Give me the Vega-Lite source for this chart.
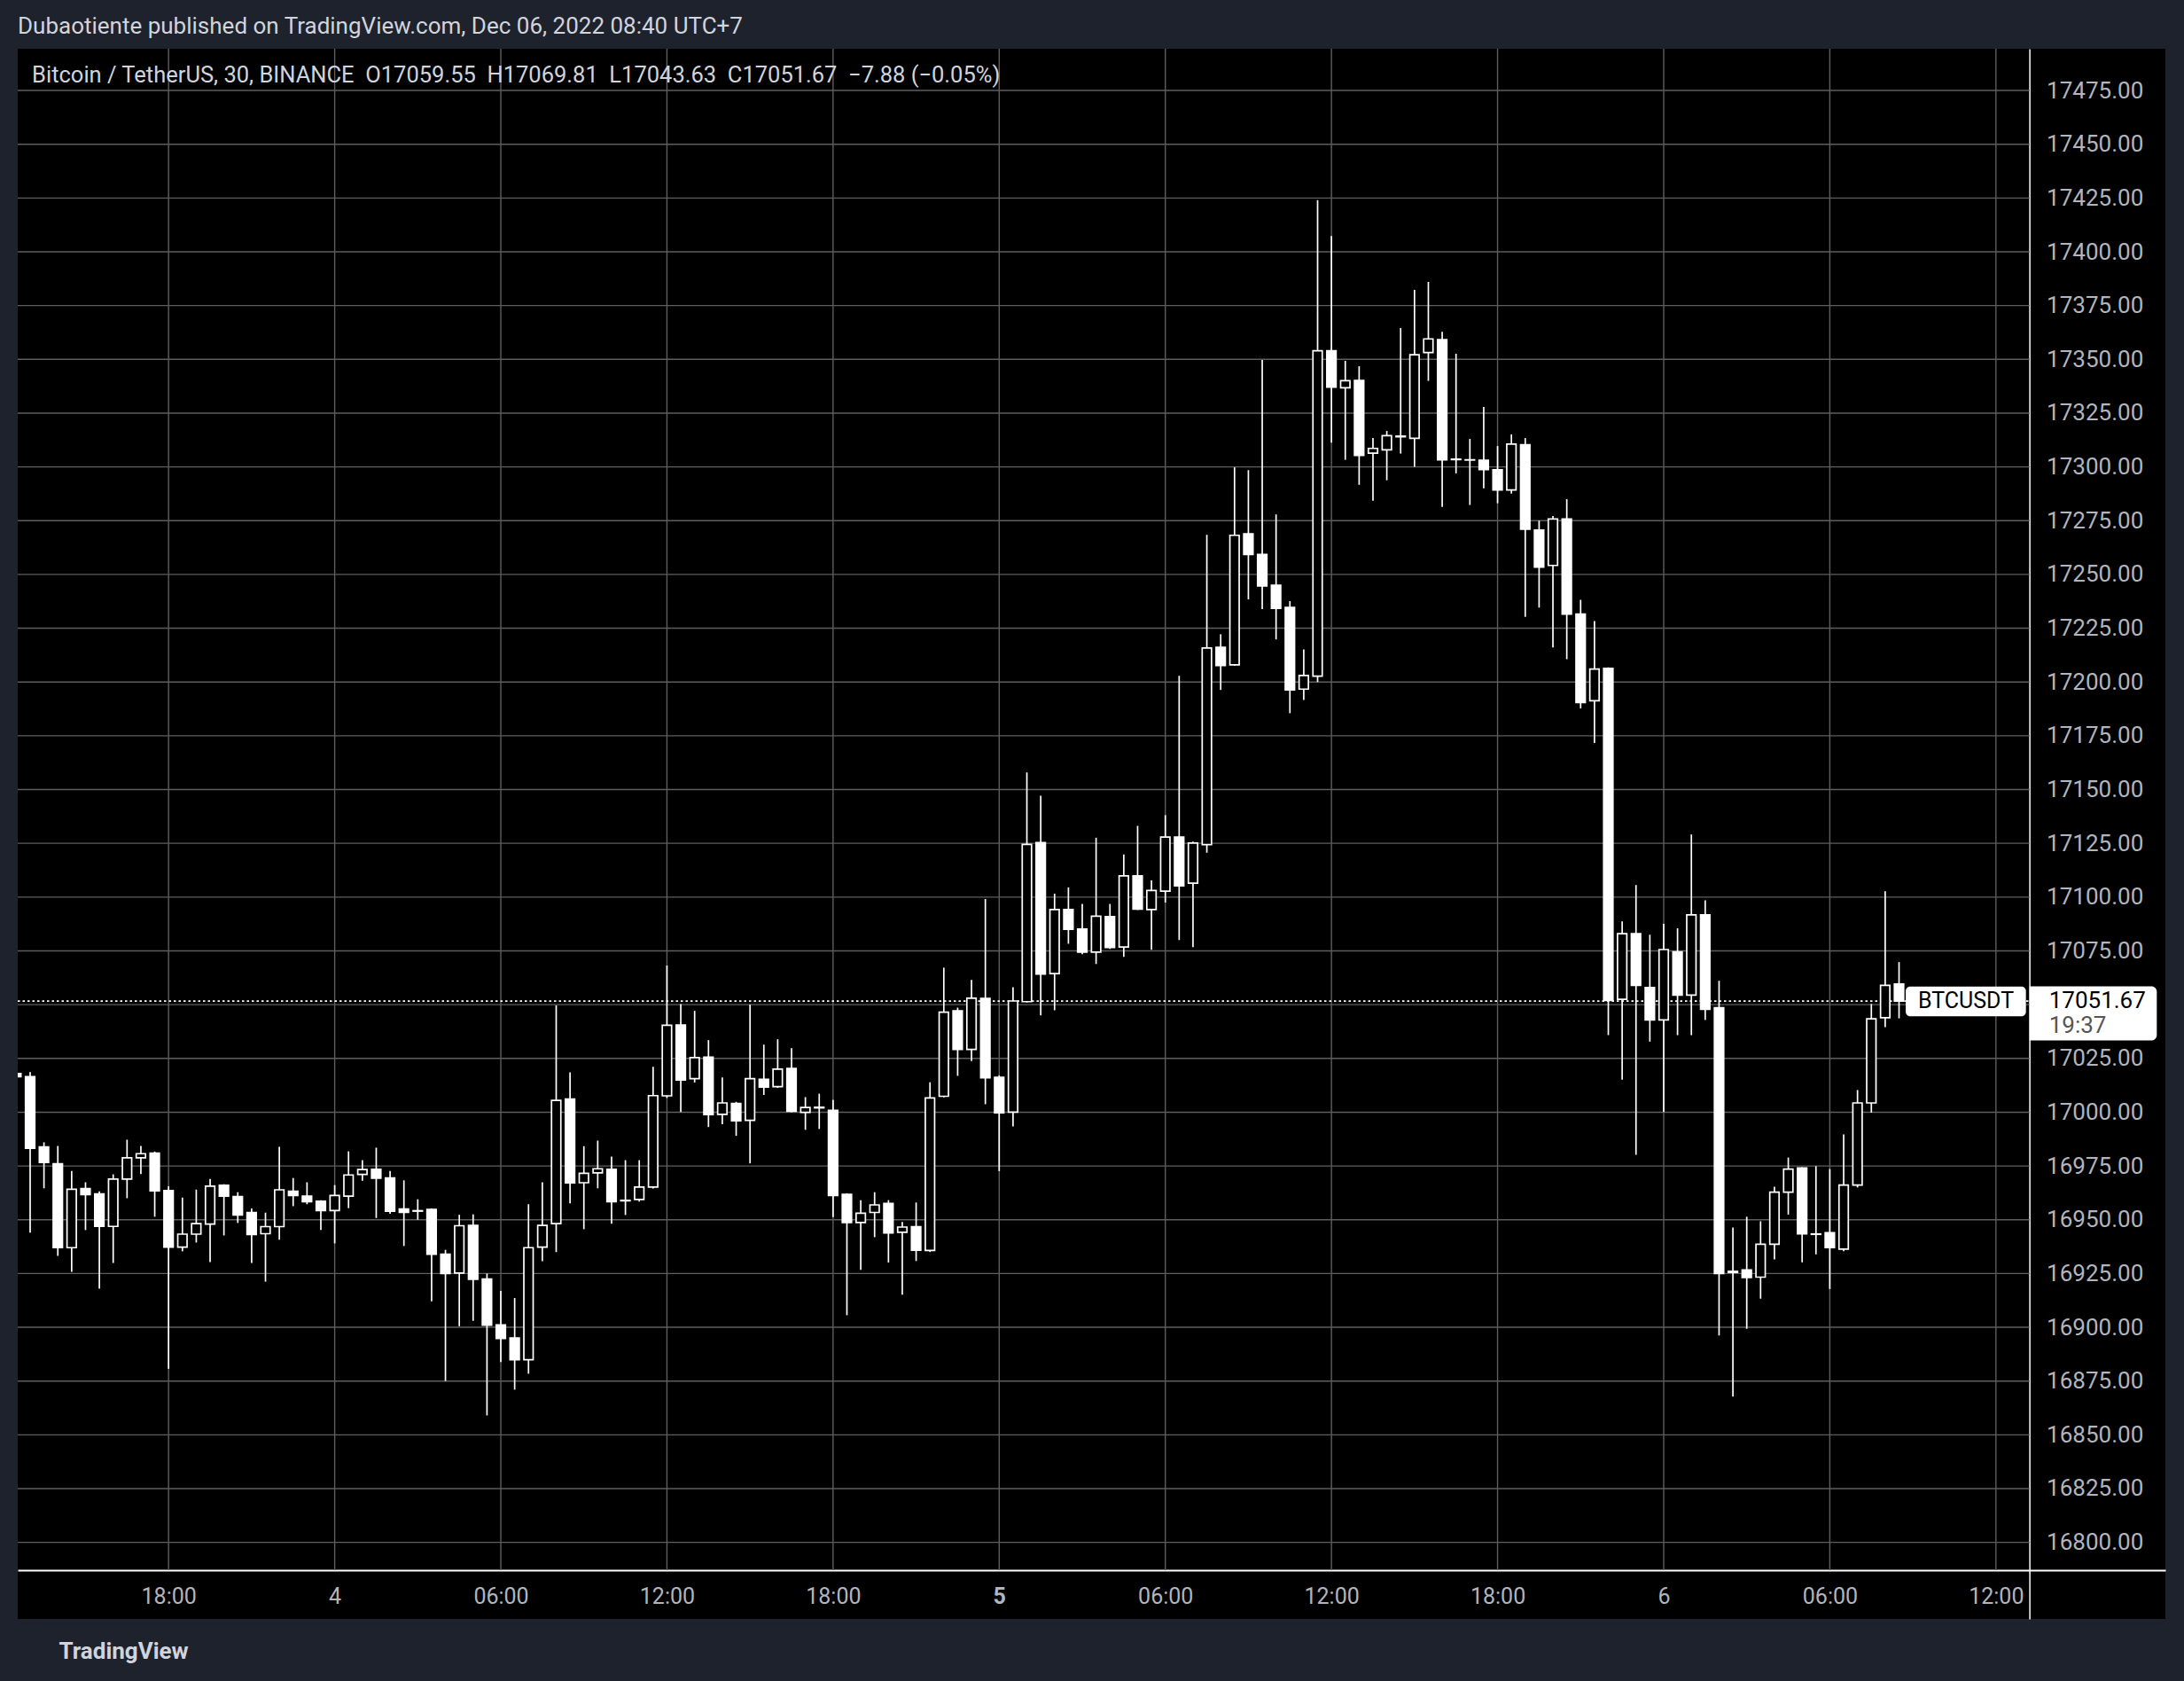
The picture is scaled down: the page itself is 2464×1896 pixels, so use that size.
{
"$schema": "https://vega.github.io/schema/vega-lite/v6.json",
"autosize": {"type": "none"},
"width": 2423,
"height": 1771,
"padding": {"left": 20, "top": 55, "right": 21, "bottom": 70},
"background": "#1e222d",
"config": {"font": "Roboto", "view": {"stroke": null, "fill": "#000000"},
  "axis": {"grid": false, "ticks": false, "tickSize": 0, "domainColor": "#ffffff", "labelColor": "#b2b5be", "labelFlush": false, "labelOverlap": false, "titleColor": "#d1d4dc"}},
"title": {"text": "Dubaotiente published on TradingView.com, Dec 06, 2022 08:40 UTC+7", "anchor": "start", "frame": "group", "fontSize": 26, "fontWeight": "normal", "color": "#d1d4dc", "baseline": "middle", "offset": -2},
"resolve": {"axis": {"x": "independent", "y": "independent"}},
"datasets": {
"candles": [
{"t":"2022-12-03T12:30Z","o":17018,"h":17019,"l":17015,"c":17016.5},
{"t":"2022-12-03T13:00Z","o":17016.5,"h":17018.6,"l":16944.0,"c":16983.2},
{"t":"2022-12-03T13:30Z","o":16983.9,"h":16986.0,"l":16964.6,"c":16976.6},
{"t":"2022-12-03T14:00Z","o":16976.0,"h":16984.3,"l":16933.2,"c":16937.0},
{"t":"2022-12-03T14:30Z","o":16937.0,"h":16972.7,"l":16925.8,"c":16964.2},
{"t":"2022-12-03T15:00Z","o":16964.5,"h":16967.4,"l":16945.2,"c":16961.7},
{"t":"2022-12-03T15:30Z","o":16962.0,"h":16963.2,"l":16917.9,"c":16946.9},
{"t":"2022-12-03T16:00Z","o":16946.9,"h":16971.1,"l":16929.9,"c":16968.9},
{"t":"2022-12-03T16:30Z","o":16968.9,"h":16987.2,"l":16960.0,"c":16978.8},
{"t":"2022-12-03T17:00Z","o":16978.8,"h":16984.3,"l":16971.2,"c":16980.7},
{"t":"2022-12-03T17:30Z","o":16981.0,"h":16981.7,"l":16951.4,"c":16963.4},
{"t":"2022-12-03T18:00Z","o":16963.6,"h":16965.6,"l":16880.7,"c":16937.3},
{"t":"2022-12-03T18:30Z","o":16937.3,"h":16960.3,"l":16935.3,"c":16943.3},
{"t":"2022-12-03T19:00Z","o":16943.3,"h":16964.0,"l":16939.4,"c":16948.2},
{"t":"2022-12-03T19:30Z","o":16948.0,"h":16969.0,"l":16930.3,"c":16965.6},
{"t":"2022-12-03T20:00Z","o":16966.0,"h":16966.5,"l":16942.7,"c":16961.0},
{"t":"2022-12-03T20:30Z","o":16960.8,"h":16962.8,"l":16948.5,"c":16952.2},
{"t":"2022-12-03T21:00Z","o":16953.3,"h":16955.2,"l":16929.9,"c":16943.1},
{"t":"2022-12-03T21:30Z","o":16943.5,"h":16953.3,"l":16921.2,"c":16946.8},
{"t":"2022-12-03T22:00Z","o":16946.8,"h":16983.9,"l":16940.7,"c":16963.9},
{"t":"2022-12-03T22:30Z","o":16963.2,"h":16969.4,"l":16956.3,"c":16961.3},
{"t":"2022-12-03T23:00Z","o":16961.0,"h":16967.4,"l":16957.2,"c":16958.4},
{"t":"2022-12-03T23:30Z","o":16958.6,"h":16959.1,"l":16945.2,"c":16954.3},
{"t":"2022-12-04T00:00Z","o":16954.3,"h":16966.1,"l":16939.0,"c":16961.3},
{"t":"2022-12-04T00:30Z","o":16961.0,"h":16981.8,"l":16955.4,"c":16970.8},
{"t":"2022-12-04T01:00Z","o":16971.1,"h":16977.7,"l":16968.1,"c":16973.3},
{"t":"2022-12-04T01:30Z","o":16973.4,"h":16983.5,"l":16950.8,"c":16969.3},
{"t":"2022-12-04T02:00Z","o":16969.4,"h":16972.7,"l":16952.8,"c":16953.9},
{"t":"2022-12-04T02:30Z","o":16955.0,"h":16968.3,"l":16937.8,"c":16953.4},
{"t":"2022-12-04T03:00Z","o":16954.2,"h":16959.5,"l":16950.0,"c":16954.0},
{"t":"2022-12-04T03:30Z","o":16954.8,"h":16955.2,"l":16912.1,"c":16934.0},
{"t":"2022-12-04T04:00Z","o":16934.0,"h":16936.0,"l":16875.0,"c":16925.0},
{"t":"2022-12-04T04:30Z","o":16925.2,"h":16952.3,"l":16900.5,"c":16947.2},
{"t":"2022-12-04T05:00Z","o":16947.4,"h":16952.5,"l":16903.0,"c":16922.3},
{"t":"2022-12-04T05:30Z","o":16922.4,"h":16925.0,"l":16859.0,"c":16901.0},
{"t":"2022-12-04T06:00Z","o":16901.1,"h":16916.9,"l":16883.8,"c":16894.8},
{"t":"2022-12-04T06:30Z","o":16895.0,"h":16913.6,"l":16871.0,"c":16884.9},
{"t":"2022-12-04T07:00Z","o":16884.9,"h":16957.2,"l":16878.4,"c":16937.0},
{"t":"2022-12-04T07:30Z","o":16937.3,"h":16967.4,"l":16930.7,"c":16947.4},
{"t":"2022-12-04T08:00Z","o":16948.2,"h":17049.6,"l":16934.9,"c":17005.5},
{"t":"2022-12-04T08:30Z","o":17006.1,"h":17018.5,"l":16957.6,"c":16967.1},
{"t":"2022-12-04T09:00Z","o":16967.2,"h":16984.2,"l":16945.6,"c":16971.6},
{"t":"2022-12-04T09:30Z","o":16971.8,"h":16986.8,"l":16964.6,"c":16973.7},
{"t":"2022-12-04T10:00Z","o":16973.4,"h":16979.4,"l":16948.1,"c":16958.4},
{"t":"2022-12-04T10:30Z","o":16959.0,"h":16977.7,"l":16952.2,"c":16958.8},
{"t":"2022-12-04T11:00Z","o":16959.4,"h":16977.7,"l":16958.4,"c":16965.2},
{"t":"2022-12-04T11:30Z","o":16965.2,"h":17021.1,"l":16964.5,"c":17007.7},
{"t":"2022-12-04T12:00Z","o":17007.6,"h":17068.2,"l":17006.6,"c":17040.4},
{"t":"2022-12-04T12:30Z","o":17040.5,"h":17050.3,"l":17000.1,"c":17015.0},
{"t":"2022-12-04T13:00Z","o":17015.6,"h":17047.1,"l":17013.8,"c":17025.4},
{"t":"2022-12-04T13:30Z","o":17025.6,"h":17033.5,"l":16993.1,"c":16998.9},
{"t":"2022-12-04T14:00Z","o":16999.0,"h":17016.1,"l":16994.4,"c":17004.3},
{"t":"2022-12-04T14:30Z","o":17004.1,"h":17004.8,"l":16989.0,"c":16996.0},
{"t":"2022-12-04T15:00Z","o":16996.2,"h":17050.0,"l":16976.2,"c":17015.6},
{"t":"2022-12-04T15:30Z","o":17015.3,"h":17031.4,"l":17008.0,"c":17011.7},
{"t":"2022-12-04T16:00Z","o":17011.9,"h":17033.9,"l":17011.3,"c":17020.0},
{"t":"2022-12-04T16:30Z","o":17020.3,"h":17029.8,"l":17000.0,"c":17000.4},
{"t":"2022-12-04T17:00Z","o":16999.9,"h":17007.0,"l":16991.8,"c":17002.2},
{"t":"2022-12-04T17:30Z","o":17002.0,"h":17008.6,"l":16992.2,"c":17002.3},
{"t":"2022-12-04T18:00Z","o":17000.9,"h":17005.7,"l":16951.2,"c":16961.3},
{"t":"2022-12-04T18:30Z","o":16961.8,"h":16962.3,"l":16905.6,"c":16948.7},
{"t":"2022-12-04T19:00Z","o":16948.7,"h":16959.1,"l":16926.7,"c":16953.0},
{"t":"2022-12-04T19:30Z","o":16953.4,"h":16962.8,"l":16941.9,"c":16956.9},
{"t":"2022-12-04T20:00Z","o":16957.6,"h":16959.1,"l":16930.1,"c":16943.9},
{"t":"2022-12-04T20:30Z","o":16944.2,"h":16949.0,"l":16915.2,"c":16946.6},
{"t":"2022-12-04T21:00Z","o":16946.8,"h":16958.0,"l":16930.8,"c":16935.8},
{"t":"2022-12-04T21:30Z","o":16935.7,"h":17013.9,"l":16935.0,"c":17006.6},
{"t":"2022-12-04T22:00Z","o":17007.4,"h":17067.2,"l":17006.9,"c":17046.5},
{"t":"2022-12-04T22:30Z","o":17047.1,"h":17048.6,"l":17016.9,"c":17029.2},
{"t":"2022-12-04T23:00Z","o":17029.2,"h":17061.5,"l":17023.8,"c":17053.0},
{"t":"2022-12-04T23:30Z","o":17052.9,"h":17099.1,"l":17003.7,"c":17016.0},
{"t":"2022-12-05T00:00Z","o":17016.2,"h":17017.1,"l":16972.6,"c":16999.7},
{"t":"2022-12-05T00:30Z","o":17000.0,"h":17058.1,"l":16993.4,"c":17051.7},
{"t":"2022-12-05T01:00Z","o":17051.4,"h":17157.9,"l":17051.0,"c":17124.5},
{"t":"2022-12-05T01:30Z","o":17125.3,"h":17147.1,"l":17045.0,"c":17064.2},
{"t":"2022-12-05T02:00Z","o":17064.4,"h":17101.6,"l":17047.4,"c":17094.2},
{"t":"2022-12-05T02:30Z","o":17094.2,"h":17104.5,"l":17078.3,"c":17085.0},
{"t":"2022-12-05T03:00Z","o":17085.1,"h":17096.8,"l":17073.4,"c":17074.4},
{"t":"2022-12-05T03:30Z","o":17074.4,"h":17127.6,"l":17068.9,"c":17091.1},
{"t":"2022-12-05T04:00Z","o":17090.9,"h":17096.8,"l":17075.9,"c":17076.6},
{"t":"2022-12-05T04:30Z","o":17076.8,"h":17119.8,"l":17072.2,"c":17109.9},
{"t":"2022-12-05T05:00Z","o":17109.9,"h":17133.1,"l":17094.0,"c":17094.4},
{"t":"2022-12-05T05:30Z","o":17094.2,"h":17107.8,"l":17075.5,"c":17103.1},
{"t":"2022-12-05T06:00Z","o":17102.8,"h":17138.1,"l":17097.5,"c":17127.9},
{"t":"2022-12-05T06:30Z","o":17127.9,"h":17202.9,"l":17080.0,"c":17105.2},
{"t":"2022-12-05T07:00Z","o":17106.5,"h":17125.8,"l":17076.7,"c":17125.1},
{"t":"2022-12-05T07:30Z","o":17124.4,"h":17268.4,"l":17120.6,"c":17215.8},
{"t":"2022-12-05T08:00Z","o":17216.1,"h":17222.2,"l":17196.3,"c":17207.7},
{"t":"2022-12-05T08:30Z","o":17208.0,"h":17299.8,"l":17207.6,"c":17268.2},
{"t":"2022-12-05T09:00Z","o":17268.9,"h":17298.5,"l":17238.4,"c":17259.3},
{"t":"2022-12-05T09:30Z","o":17259.3,"h":17349.7,"l":17233.9,"c":17244.7},
{"t":"2022-12-05T10:00Z","o":17245.0,"h":17277.9,"l":17219.8,"c":17234.2},
{"t":"2022-12-05T10:30Z","o":17234.7,"h":17237.6,"l":17185.5,"c":17196.3},
{"t":"2022-12-05T11:00Z","o":17196.7,"h":17215.1,"l":17191.6,"c":17203.0},
{"t":"2022-12-05T11:30Z","o":17202.7,"h":17424.0,"l":17200.0,"c":17354.0},
{"t":"2022-12-05T12:00Z","o":17354.0,"h":17407.3,"l":17311.3,"c":17337.1},
{"t":"2022-12-05T12:30Z","o":17336.8,"h":17349.3,"l":17303.3,"c":17340.1},
{"t":"2022-12-05T13:00Z","o":17340.2,"h":17346.8,"l":17291.7,"c":17305.3},
{"t":"2022-12-05T13:30Z","o":17306.4,"h":17313.4,"l":17284.3,"c":17308.6},
{"t":"2022-12-05T14:00Z","o":17307.9,"h":17316.7,"l":17293.8,"c":17314.5},
{"t":"2022-12-05T14:30Z","o":17314.3,"h":17364.6,"l":17306.2,"c":17314.0},
{"t":"2022-12-05T15:00Z","o":17313.3,"h":17382.3,"l":17300.0,"c":17352.1},
{"t":"2022-12-05T15:30Z","o":17353.2,"h":17386.0,"l":17340.0,"c":17359.5},
{"t":"2022-12-05T16:00Z","o":17359.2,"h":17362.8,"l":17281.4,"c":17303.3},
{"t":"2022-12-05T16:30Z","o":17303.6,"h":17352.6,"l":17297.0,"c":17303.4},
{"t":"2022-12-05T17:00Z","o":17303.3,"h":17313.0,"l":17282.3,"c":17303.2},
{"t":"2022-12-05T17:30Z","o":17303.1,"h":17327.9,"l":17290.1,"c":17298.7},
{"t":"2022-12-05T18:00Z","o":17298.7,"h":17309.7,"l":17283.1,"c":17289.3},
{"t":"2022-12-05T18:30Z","o":17289.3,"h":17315.1,"l":17287.6,"c":17310.6},
{"t":"2022-12-05T19:00Z","o":17310.3,"h":17313.4,"l":17230.3,"c":17271.0},
{"t":"2022-12-05T19:30Z","o":17270.6,"h":17275.0,"l":17234.6,"c":17253.4},
{"t":"2022-12-05T20:00Z","o":17254.2,"h":17277.2,"l":17216.1,"c":17275.8},
{"t":"2022-12-05T20:30Z","o":17275.8,"h":17285.0,"l":17210.6,"c":17231.6},
{"t":"2022-12-05T21:00Z","o":17231.6,"h":17238.2,"l":17187.7,"c":17190.4},
{"t":"2022-12-05T21:30Z","o":17191.3,"h":17228.3,"l":17171.6,"c":17206.0},
{"t":"2022-12-05T22:00Z","o":17206.3,"h":17206.8,"l":17035.8,"c":17051.9},
{"t":"2022-12-05T22:30Z","o":17052.5,"h":17088.7,"l":17015.1,"c":17083.0},
{"t":"2022-12-05T23:00Z","o":17083.0,"h":17105.6,"l":16980.2,"c":17059.0},
{"t":"2022-12-05T23:30Z","o":17057.9,"h":17082.5,"l":17032.8,"c":17042.9},
{"t":"2022-12-06T00:00Z","o":17042.9,"h":17087.6,"l":17000.1,"c":17075.6},
{"t":"2022-12-06T00:30Z","o":17074.5,"h":17085.5,"l":17035.8,"c":17054.4},
{"t":"2022-12-06T01:00Z","o":17054.4,"h":17129.1,"l":17035.8,"c":17091.7},
{"t":"2022-12-06T01:30Z","o":17091.7,"h":17098.5,"l":17042.9,"c":17047.8},
{"t":"2022-12-06T02:00Z","o":17048.6,"h":17061.1,"l":16896.2,"c":16925.0},
{"t":"2022-12-06T02:30Z","o":16926.0,"h":16946.4,"l":16867.8,"c":16925.5},
{"t":"2022-12-06T03:00Z","o":16926.7,"h":16951.4,"l":16899.3,"c":16923.1},
{"t":"2022-12-06T03:30Z","o":16923.3,"h":16949.3,"l":16913.3,"c":16938.6},
{"t":"2022-12-06T04:00Z","o":16938.6,"h":16965.3,"l":16931.5,"c":16962.8},
{"t":"2022-12-06T04:30Z","o":16962.8,"h":16978.9,"l":16952.4,"c":16973.5},
{"t":"2022-12-06T05:00Z","o":16974.1,"h":16974.4,"l":16930.2,"c":16943.4},
{"t":"2022-12-06T05:30Z","o":16943.4,"h":16974.9,"l":16933.9,"c":16943.2},
{"t":"2022-12-06T06:00Z","o":16944.0,"h":16973.6,"l":16917.8,"c":16937.1},
{"t":"2022-12-06T06:30Z","o":16936.3,"h":16989.7,"l":16935.4,"c":16966.1},
{"t":"2022-12-06T07:00Z","o":16966.1,"h":17010.3,"l":16965.0,"c":17004.3},
{"t":"2022-12-06T07:30Z","o":17004.3,"h":17050.3,"l":16999.8,"c":17043.4},
{"t":"2022-12-06T08:00Z","o":17043.9,"h":17102.7,"l":17039.5,"c":17059.0},
{"t":"2022-12-06T08:30Z","o":17059.55,"h":17069.81,"l":17043.63,"c":17051.67}
],
"hgrid": [{"p":16800},{"p":16825},{"p":16850},{"p":16875},{"p":16900},{"p":16925},{"p":16950},{"p":16975},{"p":17000},{"p":17025},{"p":17050},{"p":17075},{"p":17100},{"p":17125},{"p":17150},{"p":17175},{"p":17200},{"p":17225},{"p":17250},{"p":17275},{"p":17300},{"p":17325},{"p":17350},{"p":17375},{"p":17400},{"p":17425},{"p":17450},{"p":17475}],
"vgrid": [{"t":"2022-12-03T18:00Z"},{"t":"2022-12-04T00:00Z"},{"t":"2022-12-04T06:00Z"},{"t":"2022-12-04T12:00Z"},{"t":"2022-12-04T18:00Z"},{"t":"2022-12-05T00:00Z"},{"t":"2022-12-05T06:00Z"},{"t":"2022-12-05T12:00Z"},{"t":"2022-12-05T18:00Z"},{"t":"2022-12-06T00:00Z"},{"t":"2022-12-06T06:00Z"},{"t":"2022-12-06T12:00Z"}]
},
"layer": [
{"data": {"name": "hgrid"},
 "mark": {"type": "rule", "color": "#5e5e5e", "strokeWidth": 1.4},
 "encoding": {
  "x": {"datum": {"year":2022,"month":12,"date":3,"hours":12,"minutes":33,"seconds":7,"utc":true}, "type": "temporal", "scale": {"type":"utc","domain":[{"year":2022,"month":12,"date":3,"hours":12,"minutes":33,"seconds":7,"utc":true},{"year":2022,"month":12,"date":6,"hours":18,"minutes":7,"seconds":12,"utc":true}],"nice":false,"padding":0}, "axis": null},
  "x2": {"datum": {"year":2022,"month":12,"date":6,"hours":13,"minutes":12,"seconds":36,"utc":true}},
  "y": {"field": "p", "type": "quantitative", "scale": {"domain":[16764.4,17494.4],"nice":false,"zero":false,"padding":0}, "axis": null}}},
{"data": {"name": "vgrid"},
 "mark": {"type": "rule", "color": "#5e5e5e", "strokeWidth": 1.4},
 "encoding": {
  "x": {"field": "t", "type": "temporal", "scale": {"type":"utc","domain":[{"year":2022,"month":12,"date":3,"hours":12,"minutes":33,"seconds":7,"utc":true},{"year":2022,"month":12,"date":6,"hours":18,"minutes":7,"seconds":12,"utc":true}],"nice":false,"padding":0}, "axis": null},
  "y": {"datum": 16787.1, "type": "quantitative", "scale": {"domain":[16764.4,17494.4],"nice":false,"zero":false,"padding":0}, "axis": null},
  "y2": {"datum": 17494.4}}},
{"data": {"values": [{}]},
 "mark": {"type": "rule", "color": "#ffffff", "strokeWidth": 1.6, "strokeDash": [2.5, 3]},
 "encoding": {
  "x": {"datum": {"year":2022,"month":12,"date":3,"hours":12,"minutes":33,"seconds":7,"utc":true}, "type": "temporal", "scale": {"type":"utc","domain":[{"year":2022,"month":12,"date":3,"hours":12,"minutes":33,"seconds":7,"utc":true},{"year":2022,"month":12,"date":6,"hours":18,"minutes":7,"seconds":12,"utc":true}],"nice":false,"padding":0}, "axis": null},
  "x2": {"datum": {"year":2022,"month":12,"date":6,"hours":13,"minutes":12,"seconds":36,"utc":true}},
  "y": {"datum": 17051.67, "type": "quantitative", "scale": {"domain":[16764.4,17494.4],"nice":false,"zero":false,"padding":0}, "axis": null}}},
{"data": {"name": "candles"},
 "mark": {"type": "rule", "color": "#ffffff", "strokeWidth": 1.7, "clip": true},
 "encoding": {
  "x": {"field": "t", "type": "temporal", "scale": {"type":"utc","domain":[{"year":2022,"month":12,"date":3,"hours":12,"minutes":33,"seconds":7,"utc":true},{"year":2022,"month":12,"date":6,"hours":18,"minutes":7,"seconds":12,"utc":true}],"nice":false,"padding":0}, "axis": null},
  "y": {"field": "l", "type": "quantitative", "scale": {"domain":[16764.4,17494.4],"nice":false,"zero":false,"padding":0}, "axis": null},
  "y2": {"field": "h"}
 }},
{"data": {"name": "candles"},
 "mark": {"type": "bar", "size": 10.5, "stroke": "#ffffff", "strokeWidth": 1.7, "clip": true},
 "encoding": {
  "x": {"field": "t", "type": "temporal",
   "scale": {"type":"utc","domain":[{"year":2022,"month":12,"date":3,"hours":12,"minutes":33,"seconds":7,"utc":true},{"year":2022,"month":12,"date":6,"hours":18,"minutes":7,"seconds":12,"utc":true}],"nice":false,"padding":0},
   "axis": {"values": [
     {"year":2022,"month":12,"date":3,"hours":18,"utc":true},
     {"year":2022,"month":12,"date":4,"hours":0,"utc":true},
     {"year":2022,"month":12,"date":4,"hours":6,"utc":true},
     {"year":2022,"month":12,"date":4,"hours":12,"utc":true},
     {"year":2022,"month":12,"date":4,"hours":18,"utc":true},
     {"year":2022,"month":12,"date":5,"hours":0,"utc":true},
     {"year":2022,"month":12,"date":5,"hours":6,"utc":true},
     {"year":2022,"month":12,"date":5,"hours":12,"utc":true},
     {"year":2022,"month":12,"date":5,"hours":18,"utc":true},
     {"year":2022,"month":12,"date":6,"hours":0,"utc":true},
     {"year":2022,"month":12,"date":6,"hours":6,"utc":true},
     {"year":2022,"month":12,"date":6,"hours":12,"utc":true}],
    "labelExpr": "utchours(datum.value) == 0 ? utcFormat(datum.value, '%-d') : utcFormat(datum.value, '%H:%M')",
    "labelFontWeight": {"condition": {"test": "utchours(datum.value) == 0 && utcdate(datum.value) == 5", "value": "bold"}, "value": "normal"},
    "orient": "bottom", "offset": -55, "domainWidth": 2, "labelFontSize": 25, "labelPadding": 17,
    "title": "TradingView", "titleFontSize": 26, "titleFontWeight": "bold", "titleAnchor": "start", "titleAlign": "left", "titleBaseline": "middle", "titleX": 46, "titleY": 91}},
  "y": {"field": "o", "type": "quantitative",
   "scale": {"domain":[16764.4,17494.4],"nice":false,"zero":false,"padding":0},
   "axis": {"orient": "right", "offset": -153.4, "values": [16800,16825,16850,16875,16900,16925,16950,16975,17000,17025,17075,17100,17125,17150,17175,17200,17225,17250,17275,17300,17325,17350,17375,17400,17425,17450,17475],
    "format": ".2f", "domainWidth": 1.5, "labelFontSize": 26, "labelPadding": 19, "labelAlign": "left", "labelBaseline": "middle", "title": null}},
  "y2": {"field": "c"},
  "fill": {"condition": {"test": "datum.c < datum.o", "value": "#ffffff"}, "value": "#000000"}
 }},
{"data": {"values": [{}]},
 "mark": {"type": "text", "align": "left", "baseline": "middle", "fontSize": 25.5, "color": "#d1d4dc", "text": "Bitcoin / TetherUS, 30, BINANCE\u00a0\u00a0O17059.55\u00a0\u00a0H17069.81\u00a0\u00a0L17043.63\u00a0\u00a0C17051.67\u00a0\u00a0\u22127.88 (\u22120.05%)"},
 "encoding": {
  "x": {"datum": {"year":2022,"month":12,"date":3,"hours":13,"minutes":4,"utc":true}, "type": "temporal", "scale": {"type":"utc","domain":[{"year":2022,"month":12,"date":3,"hours":12,"minutes":33,"seconds":7,"utc":true},{"year":2022,"month":12,"date":6,"hours":18,"minutes":7,"seconds":12,"utc":true}],"nice":false,"padding":0}, "axis": null},
  "y": {"datum": 17482.1, "type": "quantitative", "scale": {"domain":[16764.4,17494.4],"nice":false,"zero":false,"padding":0}, "axis": null}
 }},
{"data": {"values": [{}]},
 "mark": {"type": "rect", "color": "#ffffff", "cornerRadius": 5},
 "encoding": {
  "x": {"datum": {"year":2022,"month":12,"date":6,"hours":8,"minutes":44,"seconds":30,"utc":true}, "type": "temporal", "scale": {"type":"utc","domain":[{"year":2022,"month":12,"date":3,"hours":12,"minutes":33,"seconds":7,"utc":true},{"year":2022,"month":12,"date":6,"hours":18,"minutes":7,"seconds":12,"utc":true}],"nice":false,"padding":0}, "axis": null},
  "x2": {"datum": {"year":2022,"month":12,"date":6,"hours":13,"minutes":5,"utc":true}},
  "y": {"datum": 17044.6, "type": "quantitative", "scale": {"domain":[16764.4,17494.4],"nice":false,"zero":false,"padding":0}, "axis": null},
  "y2": {"datum": 17058.4}
 }},
{"data": {"values": [{}]},
 "mark": {"type": "text", "align": "center", "baseline": "middle", "fontSize": 25, "color": "#000000", "text": "BTCUSDT"},
 "encoding": {
  "x": {"datum": {"year":2022,"month":12,"date":6,"hours":10,"minutes":55,"utc":true}, "type": "temporal", "scale": {"type":"utc","domain":[{"year":2022,"month":12,"date":3,"hours":12,"minutes":33,"seconds":7,"utc":true},{"year":2022,"month":12,"date":6,"hours":18,"minutes":7,"seconds":12,"utc":true}],"nice":false,"padding":0}, "axis": null},
  "y": {"datum": 17051.5, "type": "quantitative", "scale": {"domain":[16764.4,17494.4],"nice":false,"zero":false,"padding":0}, "axis": null}
 }},
{"data": {"values": [{}]},
 "mark": {"type": "rect", "color": "#ffffff", "cornerRadiusTopRight": 6, "cornerRadiusBottomRight": 6},
 "encoding": {
  "x": {"datum": {"year":2022,"month":12,"date":6,"hours":13,"minutes":12,"seconds":36,"utc":true}, "type": "temporal", "scale": {"type":"utc","domain":[{"year":2022,"month":12,"date":3,"hours":12,"minutes":33,"seconds":7,"utc":true},{"year":2022,"month":12,"date":6,"hours":18,"minutes":7,"seconds":12,"utc":true}],"nice":false,"padding":0}, "axis": null},
  "x2": {"datum": {"year":2022,"month":12,"date":6,"hours":17,"minutes":48,"seconds":36,"utc":true}},
  "y": {"datum": 17033.4, "type": "quantitative", "scale": {"domain":[16764.4,17494.4],"nice":false,"zero":false,"padding":0}, "axis": null},
  "y2": {"datum": 17058.5}
 }},
{"data": {"values": [{}]},
 "mark": {"type": "text", "align": "left", "baseline": "middle", "fontSize": 26, "color": "#000000", "text": "17051.67"},
 "encoding": {
  "x": {"datum": {"year":2022,"month":12,"date":6,"hours":13,"minutes":55,"utc":true}, "type": "temporal", "scale": {"type":"utc","domain":[{"year":2022,"month":12,"date":3,"hours":12,"minutes":33,"seconds":7,"utc":true},{"year":2022,"month":12,"date":6,"hours":18,"minutes":7,"seconds":12,"utc":true}],"nice":false,"padding":0}, "axis": null},
  "y": {"datum": 17051.9, "type": "quantitative", "scale": {"domain":[16764.4,17494.4],"nice":false,"zero":false,"padding":0}, "axis": null}
 }},
{"data": {"values": [{}]},
 "mark": {"type": "text", "align": "left", "baseline": "middle", "fontSize": 26, "color": "#555555", "text": "19:37"},
 "encoding": {
  "x": {"datum": {"year":2022,"month":12,"date":6,"hours":13,"minutes":55,"utc":true}, "type": "temporal", "scale": {"type":"utc","domain":[{"year":2022,"month":12,"date":3,"hours":12,"minutes":33,"seconds":7,"utc":true},{"year":2022,"month":12,"date":6,"hours":18,"minutes":7,"seconds":12,"utc":true}],"nice":false,"padding":0}, "axis": null},
  "y": {"datum": 17040.1, "type": "quantitative", "scale": {"domain":[16764.4,17494.4],"nice":false,"zero":false,"padding":0}, "axis": null}
 }}
]
}
